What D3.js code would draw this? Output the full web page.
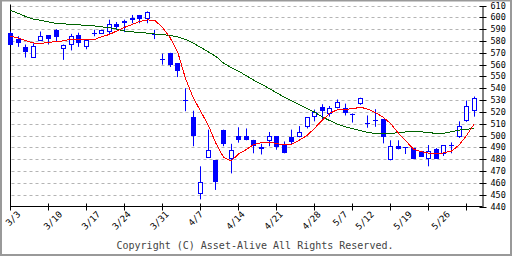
<!DOCTYPE html>
<html lang="ja">
<head>
<meta charset="UTF-8" />
<title>Chart</title>
<script src="https://d3js.org/d3.v7.min.js"></script>
<style>
  body { margin: 0; background: #fff; }
  svg { display: block; }
  text { font-family: "DejaVu Sans Mono", monospace; }
</style>
</head>
<body>
<svg id="chart"></svg>
<script>
// Daily prices (one entry per trading day)
const OPEN  = [587,582,575,566,580,585,589,573.5,577,585,575,587,586,588,594,595.4,599.6,602,599,586,
               564.5,570,561,530,516,450.4,481,479,505,480,499.5,500,496.4,488.3,495,499.5,491.7,499,498.5,507.4,
               515.8,524,518,523,523.7,518,526.3,511,513,514,479.6,491,490.3,489.4,487,480,489,484.4,491.7,499,
               512.4,520.4];
const HIGH  = [588,584,577,578,588,585,590,577,586,587,581,589.5,589.5,598,596,598,602,602,605,589.5,
               569.3,570,561,540,521,474,505,479,505,493,507,506,496.4,493,503,499.5,495,505,508,515.3,
               522,526.5,525,530.5,527,518.7,532,517,522.3,514,496,496,490.3,489.4,487,492,489.4,491.7,494.2,512,
               529.6,533];
const LOW   = [577,575,566,566,580,577,580,564,572,575,573,584,586,585,590,587.5,595,595,595,581.6,
               560,558,549.5,520.6,491,446,481,454,491,468,494,496,485,484,491,488,485,492.5,498.5,506,
               512,513.6,516,523,517,511,526,506.6,507.4,493.4,479,488.3,484.4,480.2,482,474,480.4,482.7,485,498,
               511.6,516];
const CLOSE = [577,578,571,576,584,582,583,577,584,578,580.5,585.5,589.5,594,592,597,598,599,604.7,586,
               564.5,560,554.6,530,500,460.5,487.5,461,493,488,496,496,491,490.3,500,490.5,485,494.7,502.7,515.3,
               519.8,520.6,523,528,518.7,517,532,511,513,499,491,488.3,489.5,480.2,482,487,480.4,491.7,491.7,507.7,
               524.6,532];

// Moving averages
const MA_SHORT = [583.9,582.6,580.2,578.3,577.9,578.8,579.6,580.1,581.6,581.2,581.1,581.1,583.6,585.5,588.5,591.5,594,596.5,597.8,597.4,
                  591.2,582.6,570.4,548.4,532.4,520.6,508.8,493.6,481.8,478.5,484.4,488.2,492.4,493.9,494.5,493.2,492,492.8,496.2,500,
                  506.3,513,518.9,521.9,522.3,522.6,524,522.3,519.4,515.5,510.1,502.1,495.3,488.6,486.3,485.2,484.4,485.4,486.9,492,
                  500.4,510.1];
const MA_LONG  = [605.8,603.4,600.7,598.6,597.4,596.1,594.8,594.5,594,593.6,593.2,592.8,591.9,591.2,589.9,588.5,587.7,587.2,586.6,585.9,
                  585.3,584.7,583.4,581.3,578.4,574.6,570.8,567,561.3,557.5,554.4,550.6,546.8,543.4,539.9,536.2,532.4,529.3,526.1,522.9,
                  519.8,515.7,512.6,509.7,507.4,505.9,504.2,502.5,501.8,501.8,501.8,502.5,503.1,503.2,503.2,502.5,501.8,502,503.3,504.6,
                  505.2,506.5];

// Axis labels
const DATE_LABELS = ["3/3","3/10","3/17","3/24","3/31","4/7","4/14","4/21","4/28","5/7","5/12","5/19","5/26"];
const DATE_INDEX  = [0,5,10,14,19,24,29,34,39,43,46,51,56];
const X_TICKS = [0,5,10,15,20,25,30,35,40,45,50,55,60];
const Y_TICKS = [440,450,460,470,480,490,500,510,520,530,540,550,560,570,580,590,600,610];

const WIDTH = 512, HEIGHT = 256;
const LEFT = 10.5, RIGHT = 482.5, TOP = 5.5, BOTTOM = 206.5;

const x = d3.scaleLinear().domain([0, 62]).range([LEFT, RIGHT - 0.5]);
const y = d3.scaleLinear().domain([440, 610]).range([BOTTOM, TOP]);
const cx = (i) => Math.floor(x(i)) + 0.5;
const cy = (v) => Math.round(y(v)) + 0.5;

const svg = d3.select("#chart").attr("width", WIDTH).attr("height", HEIGHT);

svg.append("rect").attr("width", WIDTH).attr("height", HEIGHT).attr("fill", "#fff");

// outer frame
svg.append("rect")
	.attr("x", 1).attr("y", 0.5).attr("width", WIDTH - 2).attr("height", HEIGHT - 1.5)
	.attr("fill", "none").attr("stroke", "#999").attr("stroke-width", 2);

// grid
svg.append("g")
	.selectAll("line")
	.data(Y_TICKS.filter((v) => v > 440))
	.join("line")
	.attr("x1", LEFT + 1).attr("x2", RIGHT - 1)
	.attr("y1", (d) => cy(d)).attr("y2", (d) => cy(d))
	.attr("stroke", "#b4b4b4").attr("stroke-dasharray", "3,3");

// axes
const yAxis = svg.append("g")
	.attr("transform", `translate(${RIGHT},0)`)
	.call(d3.axisRight(y).tickValues(Y_TICKS).tickSize(4).tickSizeOuter(0).tickPadding(4));
yAxis.selectAll(".tick line").attr("x1", -3);
yAxis.selectAll(".tick").attr("transform", (d) => `translate(0,${cy(d)})`);
yAxis.select(".domain").attr("stroke", "#000");
yAxis.selectAll("text").attr("font-size", 8.5).attr("font-family", "DejaVu Sans Mono").attr("fill", "#000");

const xAxis = svg.append("g")
	.attr("transform", `translate(0,${BOTTOM})`)
	.call(d3.axisBottom(x).tickValues(X_TICKS).tickSize(4).tickSizeOuter(0).tickFormat(""));
xAxis.selectAll(".tick line").attr("y1", -3);
xAxis.selectAll(".tick").attr("transform", (d) => `translate(${cx(d)},0)`);
xAxis.select(".domain").attr("d", `M${LEFT},0H${RIGHT}`);

svg.append("line")
	.attr("x1", LEFT).attr("x2", LEFT).attr("y1", TOP - 1).attr("y2", BOTTOM)
	.attr("stroke", "#000");

// date labels, rotated
svg.append("g")
	.selectAll("text")
	.data(DATE_LABELS)
	.join("text")
	.text((d) => d)
	.attr("font-size", 9)
	.attr("fill", "#000")
	.attr("transform", function (d, i) {
		const len = this.getComputedTextLength() * Math.SQRT1_2;
		return `translate(${x(DATE_INDEX[i]) - 1},${215 + len}) rotate(-45)`;
	});

// candles
const candles = svg.append("g").selectAll("g").data(OPEN.map((o, i) => i)).join("g");
candles.append("line")
	.attr("x1", (i) => cx(i)).attr("x2", (i) => cx(i))
	.attr("y1", (i) => y(HIGH[i])).attr("y2", (i) => y(LOW[i]))
	.attr("stroke", "#0000ff");
candles.each(function (i) {
	const g = d3.select(this);
	const top = y(Math.max(OPEN[i], CLOSE[i]));
	const bot = y(Math.min(OPEN[i], CLOSE[i]));
	const left = cx(i) - 2.5;
	if (Math.abs(bot - top) < 1.5) {
		g.append("line")
			.attr("x1", left).attr("x2", left + 5)
			.attr("y1", Math.round(top) + 0.5).attr("y2", Math.round(top) + 0.5)
			.attr("stroke", "#0000ff");
	} else if (CLOSE[i] < OPEN[i]) {
		g.append("rect")
			.attr("x", left).attr("width", 5)
			.attr("y", Math.round(top)).attr("height", Math.max(1, Math.round(bot) - Math.round(top)))
			.attr("fill", "#0000ff");
	} else {
		g.append("rect")
			.attr("x", left + 0.5).attr("width", 4)
			.attr("y", Math.round(top) + 0.5).attr("height", Math.round(bot) - Math.round(top) - 1)
			.attr("fill", "#fff").attr("stroke", "#0000ff");
	}
});

// moving averages
const line = d3.line().x((d, i) => x(i)).y((d) => y(d));
svg.append("path").datum(MA_LONG).attr("d", line)
	.attr("fill", "none").attr("stroke", "#006400").attr("stroke-width", 1)
	.attr("shape-rendering", "crispEdges");
svg.append("path").datum(MA_SHORT).attr("d", line)
	.attr("fill", "none").attr("stroke", "#ff0000").attr("stroke-width", 1)
	.attr("shape-rendering", "crispEdges");

// footer
svg.append("text")
	.attr("x", 255).attr("y", 249)
	.attr("text-anchor", "middle")
	.attr("font-size", 10)
	.attr("fill", "#444")
	.text("Copyright (C) Asset-Alive All Rights Reserved.");
</script>
</body>
</html>
